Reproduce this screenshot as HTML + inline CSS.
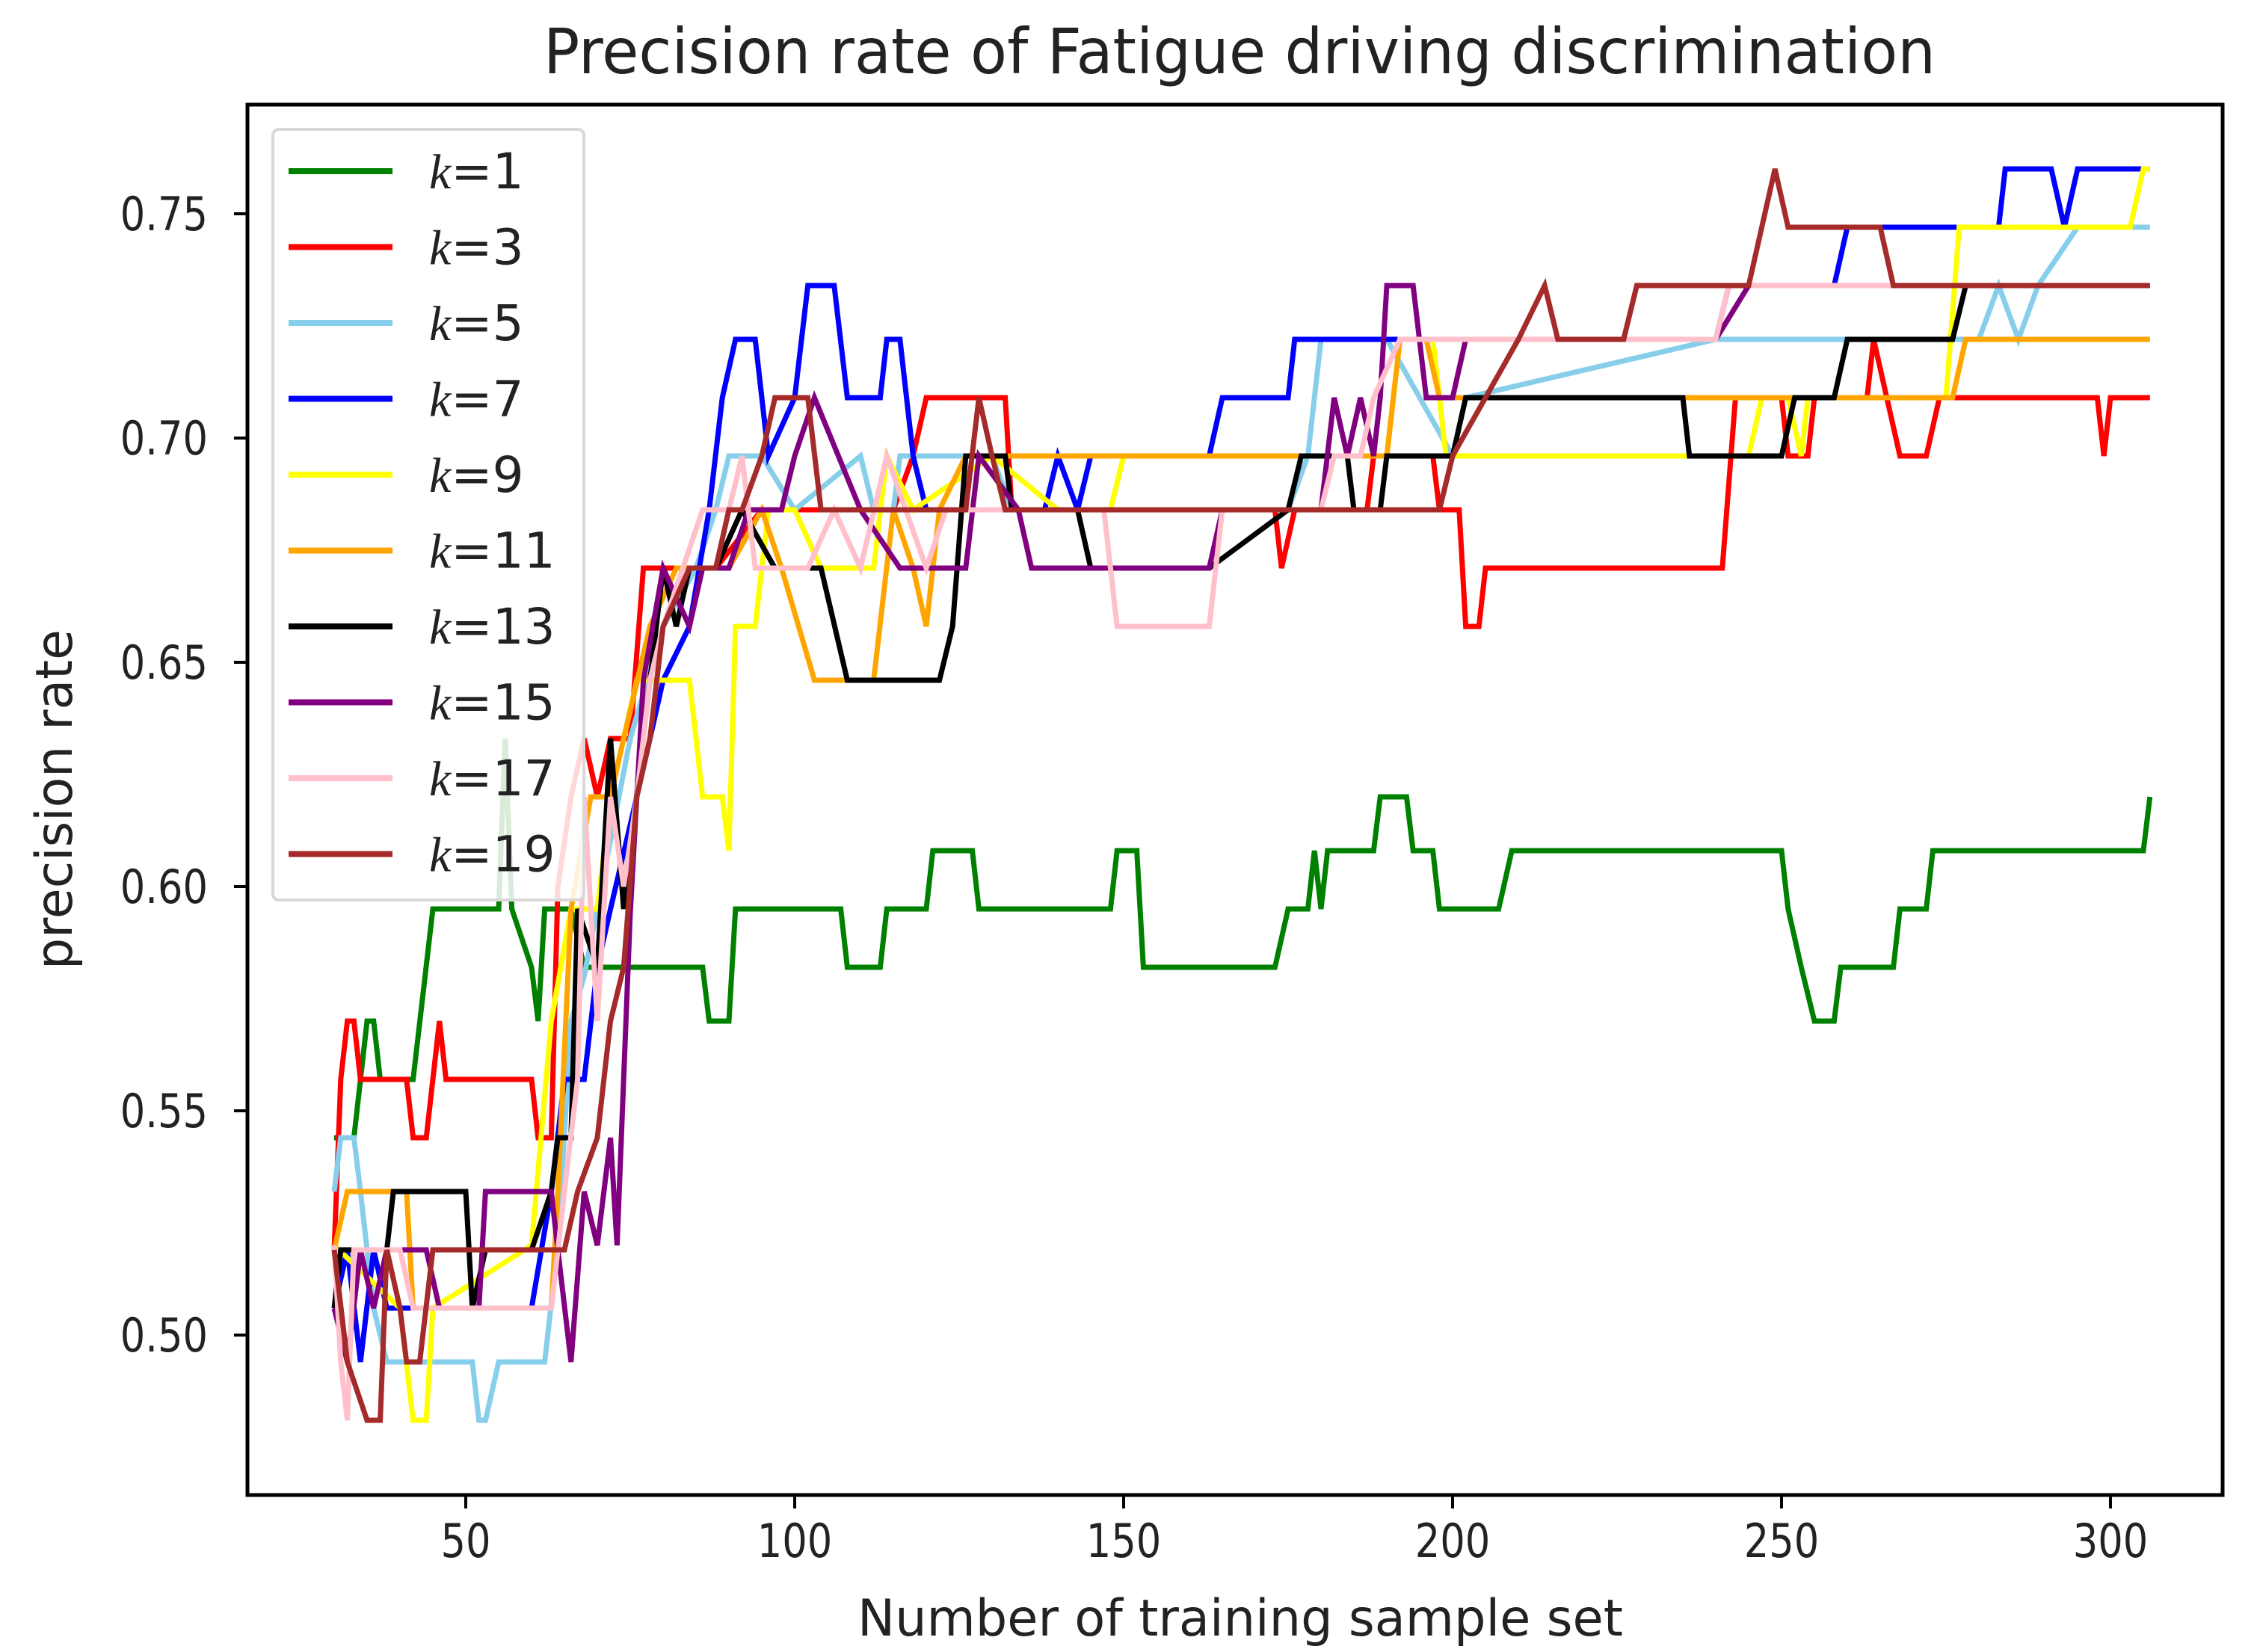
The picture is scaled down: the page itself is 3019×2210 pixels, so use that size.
<!DOCTYPE html>
<html><head><meta charset="utf-8"><style>
html,body{margin:0;padding:0;background:#fff;width:3019px;height:2210px;overflow:hidden}
svg text{font-family:"DejaVu Sans","Liberation Sans",sans-serif;fill:#222}
</style></head><body>
<svg id="chart" width="3019" height="2210" viewBox="0 0 3019 2210" xmlns="http://www.w3.org/2000/svg">
<rect x="0" y="0" width="3019" height="2210" fill="#fff"/>
<text id="title" x="727" y="98" font-size="84" textLength="1862" lengthAdjust="spacingAndGlyphs" fill="#333">Precision rate of Fatigue driving discrimination</text>
<text x="1147" y="2188" font-size="68" textLength="1024" lengthAdjust="spacingAndGlyphs">Number of training sample set</text>
<text x="0" y="0" font-size="68" textLength="455" lengthAdjust="spacingAndGlyphs" transform="translate(96,1297) rotate(-90)">precision rate</text>
<g id="ticks"></g>
<g id="series"></g>
<rect x="331" y="140" width="2642" height="1860" fill="none" stroke="#000" stroke-width="5"/>
<g id="legend"></g>
</svg>
<script>
const xTicks=[50,100,150,200,250,300];
const yTicks=[0.50,0.55,0.60,0.65,0.70,0.75];
const yTickLabels=["0.50","0.55","0.60","0.65","0.70","0.75"];
const seriesNames=["k=1","k=3","k=5","k=7","k=9","k=11","k=13","k=15","k=17","k=19"];
const seriesColors=["green","red","skyblue","blue","yellow","orange","black","purple","pink","brown"];
const k1X=[30,33,35,36,37,42,45,55,56,57,60,61,62,66,68,86,87,90,91,107,108,113,114,120,121,127,128,148,149,152,153,173,175,178,179,180,181,188,189,193,194,197,198,207,209,250,251,253,255,258,259,267,268,272,273,305,306];
const k1Y=[0.544,0.544,0.57,0.57,0.557,0.557,0.595,0.595,0.633,0.595,0.582,0.57,0.595,0.595,0.582,0.582,0.57,0.57,0.595,0.595,0.582,0.582,0.595,0.595,0.608,0.608,0.595,0.595,0.608,0.608,0.582,0.582,0.595,0.595,0.608,0.595,0.608,0.608,0.62,0.62,0.608,0.608,0.595,0.595,0.608,0.608,0.595,0.582,0.57,0.57,0.582,0.582,0.595,0.595,0.608,0.608,0.62];
const k3X=[30,31,32,33,34,41,42,44,45,46,47,60,61,63,64,66,68,70,72,75,77,88,95,115,118,120,132,133,173,174,176,187,188,197,198,201,202,204,205,241,243,250,251,254,255,263,264,266,268,272,274,298,299,300,306];
const k3Y=[0.519,0.557,0.57,0.57,0.557,0.557,0.544,0.544,0.557,0.57,0.557,0.557,0.544,0.544,0.6,0.62,0.633,0.62,0.633,0.633,0.671,0.671,0.684,0.684,0.696,0.709,0.709,0.684,0.684,0.671,0.684,0.684,0.696,0.696,0.684,0.684,0.658,0.658,0.671,0.671,0.709,0.709,0.696,0.696,0.709,0.709,0.722,0.709,0.696,0.696,0.709,0.709,0.696,0.709,0.709];
const k5X=[30,31,33,34,36,38,43,51,52,53,55,62,64,66,68,75,80,85,88,90,95,100,110,112,115,116,130,133,175,178,180,190,195,200,202,240,280,283,286,289,295,306];
const k5Y=[0.532,0.544,0.544,0.532,0.506,0.494,0.494,0.494,0.481,0.481,0.494,0.494,0.52,0.57,0.58,0.633,0.658,0.671,0.684,0.696,0.696,0.684,0.696,0.684,0.684,0.696,0.696,0.684,0.684,0.696,0.722,0.722,0.709,0.696,0.709,0.722,0.722,0.734,0.722,0.734,0.747,0.747];
const k7X=[30,32,34,36,38,60,63,65,68,70,72,76,80,84,87,89,91,94,96,100,102,106,108,113,114,116,118,120,138,140,143,145,163,165,175,176,240,242,258,260,283,284,291,293,295,306];
const k7Y=[0.506,0.519,0.494,0.519,0.506,0.506,0.532,0.557,0.557,0.582,0.595,0.62,0.646,0.658,0.684,0.709,0.722,0.722,0.696,0.709,0.734,0.734,0.709,0.709,0.722,0.722,0.696,0.684,0.684,0.696,0.684,0.696,0.696,0.709,0.709,0.722,0.722,0.734,0.734,0.747,0.747,0.76,0.76,0.747,0.76,0.76];
const k9X=[30,40,42,44,45,60,63,66,70,72,76,84,86,89,90,91,94,96,100,104,112,114,118,130,140,148,150,190,192,197,199,245,247,251,253,254,275,277,303,305,306];
const k9Y=[0.52,0.506,0.481,0.481,0.506,0.52,0.57,0.595,0.595,0.62,0.646,0.646,0.62,0.62,0.608,0.658,0.658,0.684,0.684,0.671,0.671,0.696,0.684,0.696,0.684,0.684,0.696,0.696,0.722,0.722,0.696,0.696,0.709,0.709,0.696,0.709,0.709,0.747,0.747,0.76,0.76];
const k11X=[30,32,41,42,63,64,66,69,72,74,78,82,90,95,98,103,112,115,118,120,122,126,190,192,196,198,276,278,306];
const k11Y=[0.519,0.532,0.532,0.506,0.506,0.532,0.595,0.62,0.62,0.633,0.658,0.671,0.671,0.684,0.671,0.646,0.646,0.684,0.671,0.658,0.684,0.696,0.696,0.722,0.722,0.709,0.709,0.722,0.722];
const k13X=[30,31,38,39,50,51,53,60,63,64,66,67,70,72,74,78,80,82,84,88,92,97,104,108,122,124,126,132,133,143,145,163,175,177,184,185,189,190,200,202,235,236,250,252,258,260,276,278,306];
const k13Y=[0.506,0.519,0.519,0.532,0.532,0.506,0.519,0.519,0.532,0.544,0.544,0.595,0.582,0.633,0.595,0.646,0.671,0.658,0.671,0.671,0.684,0.671,0.671,0.646,0.646,0.658,0.696,0.696,0.684,0.684,0.671,0.671,0.684,0.696,0.696,0.684,0.684,0.696,0.696,0.709,0.709,0.696,0.696,0.709,0.709,0.722,0.722,0.734,0.734];
const k15X=[30,32,34,36,38,44,46,52,53,63,64,66,68,70,72,73,75,77,80,84,86,90,93,98,100,103,110,116,126,128,134,136,163,165,180,182,184,186,188,189,190,194,196,200,202,240,245,306];
const k15Y=[0.506,0.494,0.519,0.506,0.519,0.519,0.506,0.506,0.532,0.532,0.519,0.494,0.532,0.52,0.544,0.52,0.594,0.646,0.671,0.658,0.671,0.671,0.684,0.684,0.696,0.709,0.684,0.671,0.671,0.696,0.684,0.671,0.671,0.684,0.684,0.709,0.696,0.709,0.696,0.709,0.734,0.734,0.709,0.709,0.722,0.722,0.734,0.734];
const k17X=[30,31,32,33,40,42,63,65,67,68,70,72,74,76,78,80,83,86,90,92,94,102,106,110,114,120,123,147,149,163,165,180,182,186,188,192,240,242,306];
const k17Y=[0.52,0.494,0.481,0.519,0.519,0.506,0.506,0.532,0.557,0.62,0.57,0.62,0.6,0.62,0.646,0.658,0.671,0.684,0.684,0.696,0.671,0.671,0.684,0.671,0.696,0.671,0.684,0.684,0.658,0.658,0.684,0.684,0.696,0.696,0.709,0.722,0.722,0.734,0.734];
const k19X=[30,32,35,37,38,40,41,43,45,65,67,70,72,74,76,78,80,84,88,90,92,95,97,102,104,126,128,130,132,198,200,205,210,214,216,226,228,245,247,249,251,265,267,306];
const k19Y=[0.519,0.494,0.481,0.481,0.519,0.506,0.494,0.494,0.519,0.519,0.532,0.544,0.57,0.582,0.62,0.633,0.658,0.671,0.671,0.684,0.684,0.696,0.709,0.709,0.684,0.684,0.709,0.696,0.684,0.684,0.696,0.709,0.722,0.734,0.722,0.722,0.734,0.734,0.747,0.76,0.747,0.747,0.734,0.734];
const allX=[k1X,k3X,k5X,k7X,k9X,k11X,k13X,k15X,k17X,k19X];
const allY=[k1Y,k3Y,k5Y,k7Y,k9Y,k11Y,k13Y,k15Y,k17Y,k19Y];

const NS="http://www.w3.org/2000/svg";
function sx(v){return 623+(v-50)*8.8;}
function sy(v){return 1786-(v-0.5)*6000;}
function mk(tag,attrs,parent){const e=document.createElementNS(NS,tag);for(const k in attrs)e.setAttribute(k,attrs[k]);parent.appendChild(e);return e;}
function squeeze(t,f){const w=t.getComputedTextLength();t.setAttribute('textLength',(w*f).toFixed(1));t.setAttribute('lengthAdjust','spacingAndGlyphs');}

const tg=document.getElementById('ticks');
xTicks.forEach(t=>{
  const l=mk('line',{x1:sx(t),x2:sx(t),y1:2000,y2:2018,stroke:'#000','stroke-width':4},tg);
  
  
  const tx=mk('text',{x:sx(t),y:2083,'font-size':62,'text-anchor':'middle'},tg);
  tx.textContent=String(t);
  
  
  squeeze(tx,0.85);
});
yTicks.forEach((t,i)=>{
  const l=mk('line',{x1:313,x2:331,y1:sy(t),y2:sy(t),stroke:'#000','stroke-width':4},tg);
  
  
  const tx=mk('text',{x:278,y:sy(t)+22,'font-size':62,'text-anchor':'end'},tg);
  tx.textContent=yTickLabels[i];
  
  
  squeeze(tx,0.85);
});

const sg=document.getElementById('series');
allX.forEach((xs,i)=>{
  const pts=xs.map((x,j)=>sx(x).toFixed(1)+','+sy(allY[i][j]).toFixed(1)).join(' ');
  const p=mk('polyline',{points:pts,fill:'none',stroke:seriesColors[i],'stroke-width':7,'stroke-linejoin':'miter'},sg);
  
  
});

const lg=document.getElementById('legend');
const box=mk('rect',{x:365,y:173,width:416,height:1031,rx:8,fill:'#fff','fill-opacity':0.85,stroke:'#d8d8d8','stroke-width':4},lg);


seriesNames.forEach((n,i)=>{
  const y=229+i*101.5;
  const l=mk('line',{x1:386,x2:525,y1:y,y2:y,stroke:seriesColors[i],'stroke-width':8},lg);
  
  
  const t=mk('text',{x:574,y:y+23,'font-size':66},lg);
  
  
  const k=document.createElementNS(NS,'tspan');k.setAttribute('font-style','italic');k.setAttribute('font-family','Liberation Serif, serif');k.textContent='k';t.appendChild(k);
  const r=document.createElementNS(NS,'tspan');r.textContent=n.slice(1);t.appendChild(r);
});
</script>
</body></html>
